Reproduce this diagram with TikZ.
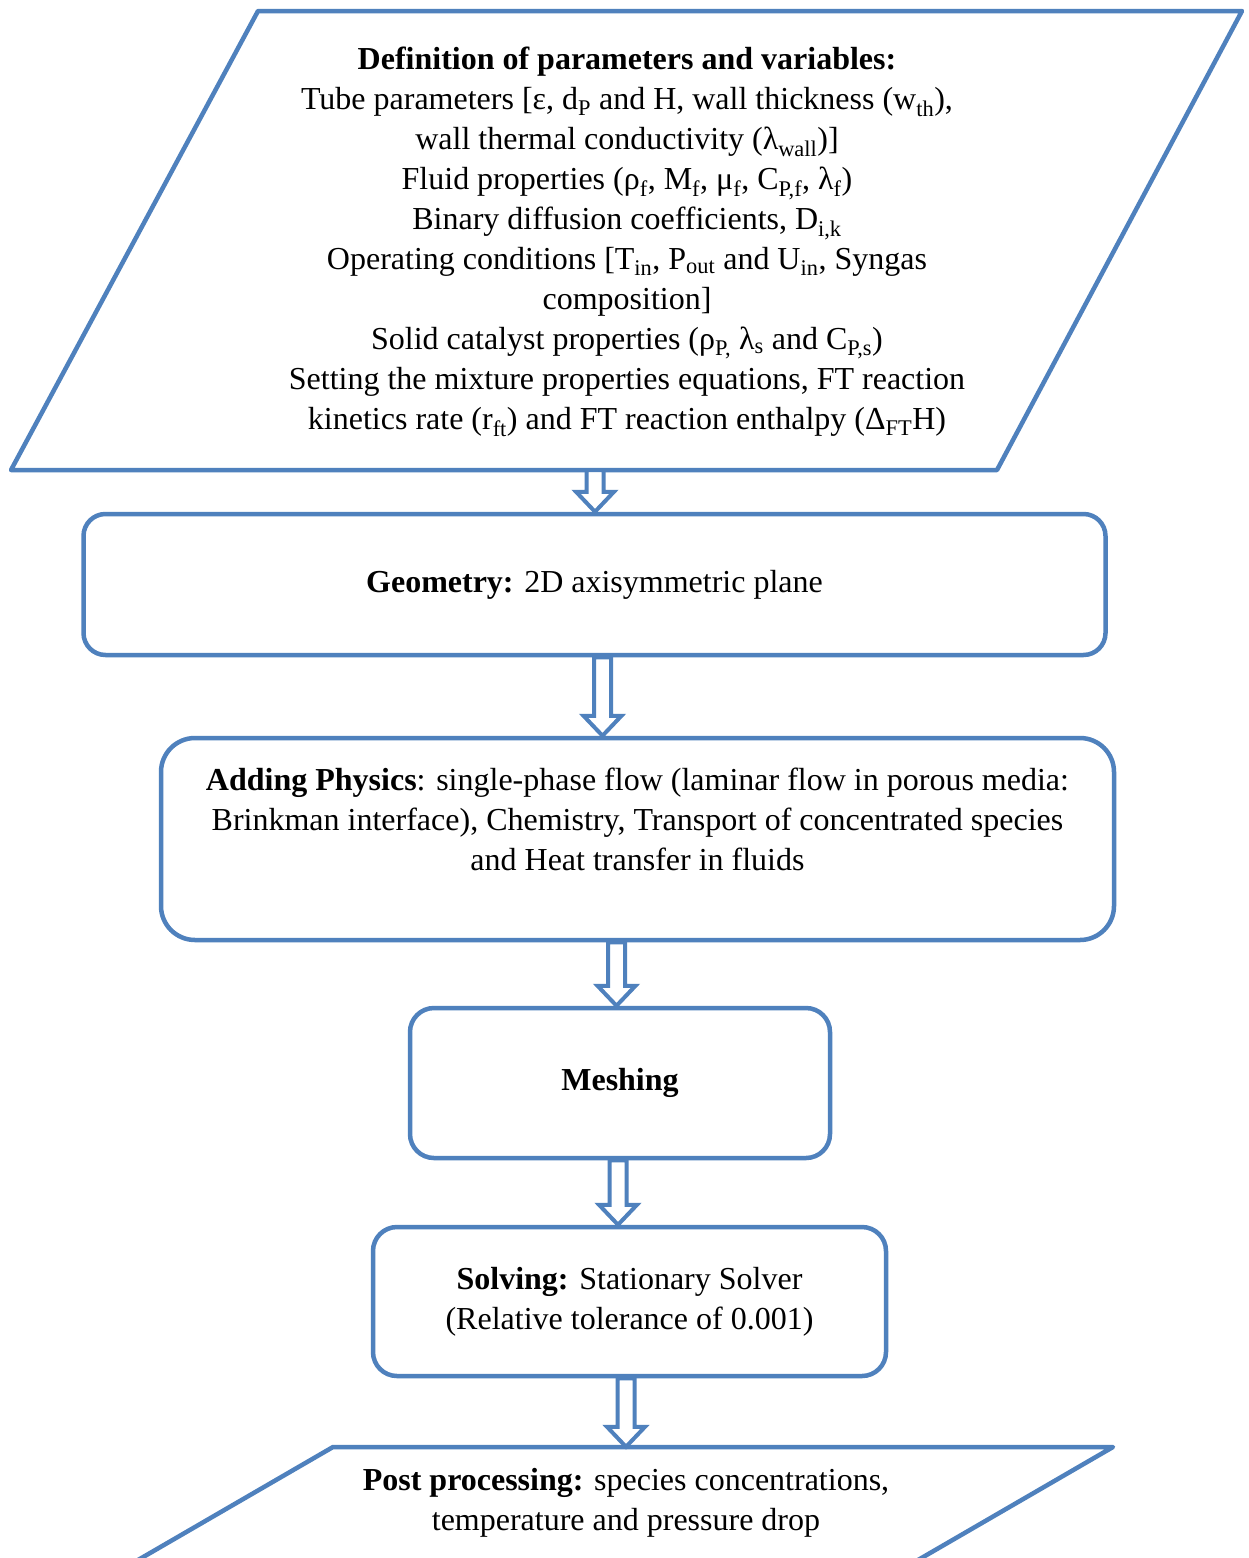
\documentclass[tikz,border=0pt]{standalone}
\usepackage{fontspec}
\setmainfont{Liberation Serif}
\usetikzlibrary{calc,fit}
\definecolor{ob}{HTML}{4F81BD}
\tikzset{
  txt/.style={align=center, inner sep=0pt, font=\fontsize{32}{40}\selectfont},
  box/.style={txt, draw=ob, line width=4.5pt, rounded corners=#1, fill=white},
  box/.default=24pt,
  para/.style={draw=ob, line width=4.5pt, line join=round, fill=white},
  blockarr/.style={draw=ob, line width=4pt, fill=white, line join=miter},
}
\newcommand\barrow[3]{%
  \draw[blockarr] let \p1=(#2.south), \p2=(#3.north) in
    ({#1pt-8.5pt},\y1) -- ({#1pt+8.5pt},\y1) -- ({#1pt+8.5pt},{\y2+20pt})
    -- ({#1pt+19pt},{\y2+20pt}) -- (#1pt,\y2) -- ({#1pt-19pt},{\y2+20pt})
    -- ({#1pt-8.5pt},{\y2+20pt}) -- cycle;}
\begin{document}
\begin{tikzpicture}[x=1pt,y=-1pt]
\clip (0,0) rectangle (1249,1558);
\fill[white] (0,0) rectangle (1249,1558);
% top parallelogram
\draw[para] (258,11) -- (1242,11) -- (997,470) -- (11,470) -- cycle;
\coordinate (ttl) at (11,11);
\coordinate (tbr) at (1242,470);
\node[fit=(ttl)(tbr), inner sep=0pt] (top) {};
\node[txt] (toptext) at (627,242) {%
\textbf{Definition of parameters and variables:}\\
Tube parameters [ε, d\textsubscript{P} and H, wall thickness (w\textsubscript{th}),\\
wall thermal conductivity (λ\textsubscript{wall})]\\
Fluid properties (ρ\textsubscript{f}, M\textsubscript{f}, μ\textsubscript{f}, C\textsubscript{P,f}, λ\textsubscript{f})\\
Binary diffusion coefficients, D\textsubscript{i,k}\\
Operating conditions [T\textsubscript{in}, P\textsubscript{out} and U\textsubscript{in}, Syngas\\
composition]\\
Solid catalyst properties (ρ\textsubscript{P,} λ\textsubscript{s} and C\textsubscript{P,s})\\
Setting the mixture properties equations, FT reaction\\
kinetics rate (r\textsubscript{ft}) and FT reaction enthalpy (Δ\textsubscript{FT}H)};
% boxes
\node[box=22pt, minimum width=1022pt, minimum height=141pt] (geo) at (594.5,584.5)
  {\textbf{Geometry:} 2D axisymmetric plane};
\node[box=34pt, minimum width=953pt, minimum height=202pt] (phys) at (637.5,839)
  {\textbf{Adding Physics}: single-phase flow (laminar flow in porous media:\\
   Brinkman interface), Chemistry, Transport of concentrated species\\
   and Heat transfer in fluids\\ \mbox{}};
\node[box=24pt, minimum width=420pt, minimum height=150pt] (mesh) at (620,1083)
  {\textbf{Meshing}};
\node[box=24pt, minimum width=513pt, minimum height=149pt] (solve) at (629.5,1301.5)
  {\textbf{Solving:} Stationary Solver\\(Relative tolerance of 0.001)};
% bottom parallelogram
\draw[para] (333,1447) -- (1113,1447) -- (849,1600) -- (69,1600) -- cycle;
\coordinate (ptl) at (69,1447);
\coordinate (pbr) at (1113,1600);
\node[fit=(ptl)(pbr), inner sep=0pt] (post) {};
\node[txt] (posttext) at (626,1503)
  {\textbf{Post processing:} species concentrations,\\temperature and pressure drop};
% arrows
\barrow{595}{top}{geo}
\barrow{602.5}{geo}{phys}
\barrow{616.5}{phys}{mesh}
\barrow{618}{mesh}{solve}
\barrow{626}{solve}{post}
\end{tikzpicture}
\end{document}
